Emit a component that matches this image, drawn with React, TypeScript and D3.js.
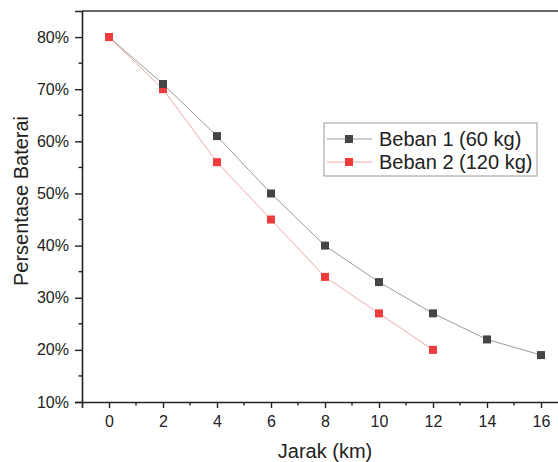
import React, { useRef, useEffect } from 'react';
import * as d3 from 'd3';

// data
const jarak1 = [0, 2, 4, 6, 8, 10, 12, 14, 16];
const beban1 = [80, 71, 61, 50, 40, 33, 27, 22, 19];
const jarak2 = [0, 2, 4, 6, 8, 10, 12];
const beban2 = [80, 70, 56, 45, 34, 27, 20];
const xTicks = [0, 2, 4, 6, 8, 10, 12, 14, 16];
const yTicks = [10, 20, 30, 40, 50, 60, 70, 80];
const seriesNames = ['Beban 1 (60 kg)', 'Beban 2 (120 kg)'];

export default function App() {
  const ref = useRef<SVGSVGElement>(null);

  useEffect(() => {
    const width = 558, height = 462;
    const left = 82, right = 568, top = 11, bottom = 402;
    const font = "'Liberation Sans', Arial, sans-serif";

    const svg = d3.select(ref.current);
    svg.selectAll('*').remove();
    svg.attr('width', width).attr('height', height);

    const x = d3.scaleLinear().domain([-1, 17]).range([left, right]);
    const y = d3.scaleLinear().domain([10, 85]).range([bottom, top]);

    // minor ticks
    const xMinor = d3.range(1, 18, 2);
    svg.append('g').selectAll('line').data(xMinor).enter().append('line')
      .attr('x1', (d) => x(d)).attr('x2', (d) => x(d))
      .attr('y1', bottom).attr('y2', bottom + 3.5)
      .attr('stroke', '#222').attr('stroke-width', 1.4);
    const yMinor = d3.range(15, 85, 10);
    svg.append('g').selectAll('line').data(yMinor).enter().append('line')
      .attr('x1', left).attr('x2', left - 3.5)
      .attr('y1', (d) => y(d)).attr('y2', (d) => y(d))
      .attr('stroke', '#222').attr('stroke-width', 1.4);

    // x axis
    const gx = svg.append('g')
      .attr('transform', 'translate(0,' + bottom + ')')
      .call(d3.axisBottom(x).tickValues(xTicks).tickSize(6).tickPadding(8).tickFormat((d) => String(d)));
    gx.select('.domain').attr('stroke', '#222').attr('stroke-width', 1.6);
    gx.selectAll('.tick line').attr('stroke', '#222').attr('stroke-width', 1.4);
    gx.selectAll('.tick text').attr('font-family', font).attr('font-size', 16).attr('fill', '#222');

    // y axis
    const gy = svg.append('g')
      .attr('transform', 'translate(' + left + ',0)')
      .call(d3.axisLeft(y).tickValues(yTicks).tickSize(7).tickPadding(6).tickFormat((d) => d + '%'));
    gy.select('.domain').attr('stroke', '#222').attr('stroke-width', 1.6);
    gy.selectAll('.tick line').attr('stroke', '#222').attr('stroke-width', 1.4);
    gy.selectAll('.tick text').attr('font-family', font).attr('font-size', 16).attr('fill', '#222');

    // top frame line
    svg.append('line')
      .attr('x1', left).attr('x2', right)
      .attr('y1', top).attr('y2', top)
      .attr('stroke', '#333').attr('stroke-width', 1.6);

    const line = d3.line<[number, number]>()
      .x((d) => x(d[0]))
      .y((d) => y(d[1]));

    const s1 = jarak1.map((v, i) => [v, beban1[i]] as [number, number]);
    const s2 = jarak2.map((v, i) => [v, beban2[i]] as [number, number]);

    svg.append('path').datum(s1).attr('d', line)
      .attr('fill', 'none').attr('stroke', '#9a9a9a').attr('stroke-width', 1);
    svg.append('path').datum(s2).attr('d', line)
      .attr('fill', 'none').attr('stroke', '#efa8a8').attr('stroke-width', 1);

    const m = 8;
    svg.append('g').selectAll('rect').data(s2).enter().append('rect')
      .attr('x', (d) => x(d[0]) - m / 2).attr('y', (d) => y(d[1]) - m / 2)
      .attr('width', m).attr('height', m).attr('fill', '#ee3b3b');
    svg.append('g').selectAll('rect').data(s1.slice(1)).enter().append('rect')
      .attr('x', (d) => x(d[0]) - m / 2).attr('y', (d) => y(d[1]) - m / 2)
      .attr('width', m).attr('height', m).attr('fill', '#454545');
    // red marker at 0 lies on top of the black one
    svg.append('rect')
      .attr('x', x(s2[0][0]) - m / 2).attr('y', y(s2[0][1]) - m / 2)
      .attr('width', m).attr('height', m).attr('fill', '#ee3b3b');

    // legend
    const lg = svg.append('g').attr('transform', 'translate(324,123)');
    lg.append('rect').attr('width', 213).attr('height', 53)
      .attr('fill', 'white').attr('stroke', '#999').attr('stroke-width', 1);
    const colors = [['#9a9a9a', '#454545'], ['#efa8a8', '#ee3b3b']];
    seriesNames.forEach((name, i) => {
      const cy = 16 + i * 23;
      lg.append('line').attr('x1', 3).attr('x2', 48).attr('y1', cy).attr('y2', cy)
        .attr('stroke', colors[i][0]).attr('stroke-width', 1);
      lg.append('rect').attr('x', 25 - m / 2).attr('y', cy - m / 2)
        .attr('width', m).attr('height', m).attr('fill', colors[i][1]);
      lg.append('text').attr('x', 55).attr('y', cy + 7)
        .attr('font-family', font).attr('font-size', 20).attr('fill', '#222')
        .text(name);
    });

    // axis titles
    svg.append('text')
      .attr('x', (left + right) / 2).attr('y', 458)
      .attr('text-anchor', 'middle')
      .attr('font-family', font).attr('font-size', 20).attr('fill', '#222')
      .text('Jarak (km)');
    svg.append('text')
      .attr('transform', 'translate(28,201) rotate(-90)')
      .attr('text-anchor', 'middle')
      .attr('font-family', font).attr('font-size', 20).attr('fill', '#222')
      .text('Persentase Baterai');
  }, []);

  return (
    <svg ref={ref} style={{ position: 'absolute', left: 0, top: 0, background: 'white' }}></svg>
  );
}
